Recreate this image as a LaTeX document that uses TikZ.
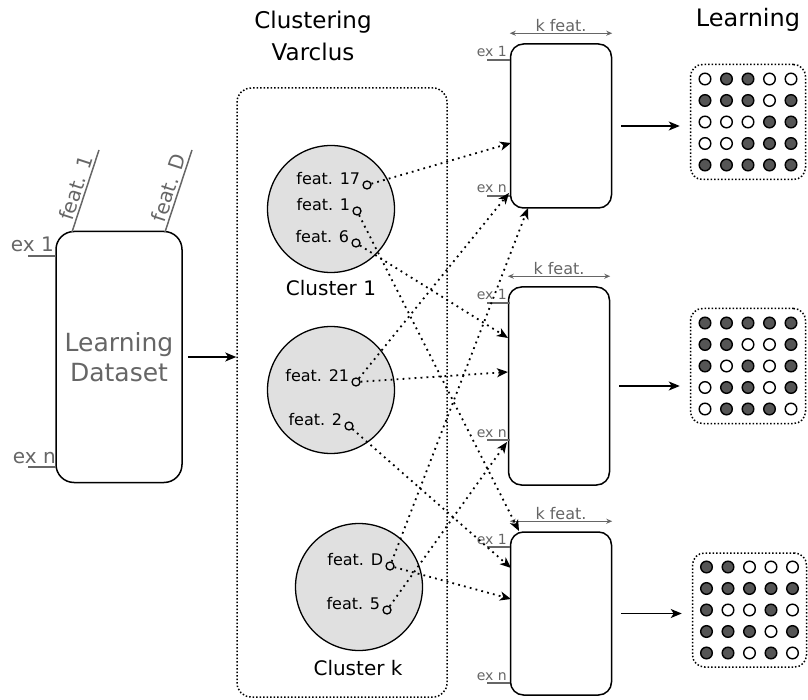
\documentclass[tikz,border=0pt]{standalone}
\usepackage{fontspec}
\setmainfont{DejaVu Sans}
\usetikzlibrary{arrows.meta,calc}

\definecolor{labelgray}{HTML}{666666}
\definecolor{bitgray}{HTML}{555555}
\definecolor{clustergray}{HTML}{E0E0E0}

\tikzset{
  setbox/.style={draw, line width=1.5pt, rounded corners=13pt, fill=white, inner sep=0pt},
  clusterdisc/.style={circle, draw, line width=1.3pt, fill=clustergray, minimum size=127pt, inner sep=0pt},
  featdot/.style={circle, draw, line width=1.3pt, minimum size=8pt, inner sep=0pt},
  featlabel/.style={font=\fontsize{16}{18}\selectfont, inner sep=1pt},
  sidetag/.style={text=labelgray, inner sep=0pt},
  tagline/.style={draw=labelgray, line width=1.5pt},
  link/.style={->, line width=1.8pt, dash pattern=on 1.8pt off 4.2pt},
  framedots/.style={draw, line width=1.5pt, dotted, rounded corners=12pt, inner sep=0pt},
  kspan/.style={{Stealth[length=6pt,width=5pt]}-{Stealth[length=6pt,width=5pt]}, line width=1pt, draw=labelgray},
}

\begin{document}
\begin{tikzpicture}[x=1pt, y=-1pt, >={Stealth[length=11pt,width=9pt,inset=3pt]}]

	% 1. Khung hinh
	\useasboundingbox (0,0) rectangle (808,700);

	% 2. Learning dataset
	\node[setbox, minimum width=126pt, minimum height=251pt, rounded corners=18pt,
	text=labelgray, align=center, font=\fontsize{25}{30}\selectfont] (data) at (119,357) {Learning\\Dataset};
	\draw[tagline] (72,232) -- (99,150) node[midway, rotate=72, anchor=south, sidetag, inner sep=2pt, font=\fontsize{20}{22}\selectfont] {feat. 1};
	\draw[tagline] (165,232) -- (192,150) node[midway, rotate=72, anchor=south, sidetag, inner sep=2pt, font=\fontsize{20}{22}\selectfont] {feat. D};
	\draw[tagline] (28,256) -- (56,256);
	\node[sidetag, anchor=base east, font=\fontsize{20}{22}\selectfont] (dex1) at (54,252) {ex 1};
	\draw[tagline] (28,467) -- (56,467);
	\node[sidetag, anchor=base east, font=\fontsize{20}{22}\selectfont] (dexn) at (56,463) {ex n};

	% 3. Clustering Varclus
	\node[framedots, minimum width=210pt, minimum height=609pt, rounded corners=14pt] (clusters) at (342,392.5) {};
	\node[font=\fontsize{23}{32}\selectfont, align=center] (clustitle) at (313,36) {Clustering\\Varclus};
	\draw[->, line width=1.5pt, shorten <=5pt] (data.east) -- (data.east -| clusters.west);

	\node[clusterdisc] (c1) at (331,209) {};
	\node[font=\fontsize{20}{22}\selectfont] (c1name) at (331,288) {Cluster 1};
	\node[clusterdisc] (c2) at (331,390) {};
	\node[clusterdisc] (ck) at (359,587) {};
	\node[font=\fontsize{20}{22}\selectfont] (ckname) at (358,668) {Cluster k};

	% cac dac trung trong moi cum
	\node[featdot] (f17) at (367,185) {};
	\node[featdot] (f1) at (357,211) {};
	\node[featdot] (f6) at (356,243) {};
	\node[featdot] (f21) at (356,382) {};
	\node[featdot] (f2) at (349,426) {};
	\node[featdot] (fD) at (390,566) {};
	\node[featdot] (f5) at (387,610) {};
	\foreach \f/\txt in {f17/17, f1/1, f6/6, f21/21, f2/2, fD/D, f5/5}
	\node[featlabel, left=1pt, yshift=6pt] (\f name) at (\f.west) {feat. \txt};

	% 4. Cac tap con k dac trung
	\node[setbox, minimum width=101pt, minimum height=164pt] (box1) at (561,126) {};
	\node[setbox, minimum width=101pt, minimum height=198pt] (box2) at (559,386) {};
	\node[setbox, minimum width=101pt, minimum height=163pt] (box3) at (561,613.5) {};

	\foreach \b/\ya/\yb in {box1/60/196, box2/303/440, box3/547/683} {
		\draw[kspan] ([yshift=10pt]\b.north west) -- ([yshift=10pt]\b.north east)
		node[midway, above=1pt, sidetag, font=\fontsize{16}{18}\selectfont] {k feat.};
		\draw[tagline] (487,\ya) -- ++(23,0);
		\node[sidetag, anchor=base east, font=\fontsize{14}{16}\selectfont] at (507,\ya-3) {ex 1};
		\draw[tagline] (487,\yb) -- ++(23,0);
		\node[sidetag, anchor=base east, font=\fontsize{14}{16}\selectfont] at (507,\yb-3) {ex n};
	}

	% 5. Lien ket dac trung -> tap con
	\coordinate (b1a) at (511,143);
	\coordinate (b1b) at (509,193);
	\coordinate (b1c) at (528,208);
	\coordinate (b2a) at (508,338);
	\coordinate (b2b) at (508,372);
	\coordinate (b2c) at (507,442);
	\coordinate (b3a) at (519,531);
	\coordinate (b3b) at (511,568);
	\coordinate (b3c) at (511,599);
	\draw[link] (f17) -- (b1a);
	\draw[link] (f21) -- (b1b);
	\draw[link] (fD) -- (b1c);
	\draw[link] (f6) -- (b2a);
	\draw[link] (f21) -- (b2b);
	\draw[link] (f5) -- (b2c);
	\draw[link] (f1) -- (b3a);
	\draw[link] (f2) -- (b3b);
	\draw[link] (fD) -- (b3c);

	% 6. Learning
	\node[font=\fontsize{24}{26}\selectfont] (learntitle) at (748,20) {Learning};
	\node[framedots, minimum width=115pt, minimum height=115pt] (grid1) at (748,122) {};
	\node[framedots, minimum width=115pt, minimum height=115pt] (grid2) at (748,366) {};
	\node[framedots, minimum width=114pt, minimum height=114pt] (grid3) at (749.5,610) {};
	\foreach \k in {1,2,3}
	\draw[->, line width=1.5pt, shorten <=9pt, shorten >=10pt] (box\k.east) -- (box\k.east -| grid\k.west);

	\foreach \g/\bits in {grid1/{0,1,1,0,0,1,1,1,0,1,0,0,0,1,1,0,0,1,1,1,1,1,1,1,1},
		grid2/{1,1,1,1,1,1,1,0,0,1,1,0,1,0,1,0,1,1,0,1,0,1,1,1,0},
		grid3/{1,1,0,0,0,1,1,1,1,1,1,0,0,1,0,1,1,1,0,1,1,1,0,1,0}}
	\foreach [count=\i from 0] \bit in \bits {
		\pgfmathtruncatemacro\row{div(\i,5)}
		\pgfmathtruncatemacro\col{mod(\i,5)}
		\ifnum\bit=1 \def\bitfill{bitgray}\else\def\bitfill{white}\fi
		\draw[line width=1.4pt, fill=\bitfill] ($(\g.center)+(\col*21.5-43,\row*21.5-43)$) circle (5.8pt);
	}

\end{tikzpicture}
\end{document}
